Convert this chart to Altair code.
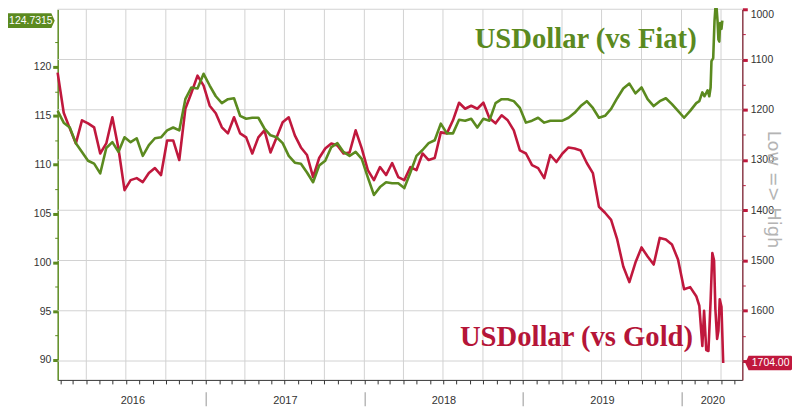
import altair as alt
import pandas as pd

# ---------------- data ----------------
base_dates = pd.date_range("2016-01-26", periods=106, freq="14D").strftime("%Y-%m-%d").tolist()

fiat_base = [
    115.5, 114.3, 113.8, 112.2, 111.3, 110.4, 110.1, 109.1, 111.7, 112.3,
    111.3, 112.8, 112.3, 112.7, 110.9, 112.0, 112.7, 112.8, 113.5, 113.8,
    113.5, 116.7, 117.9, 117.8, 119.3, 118.1, 117.0, 116.3, 116.7, 116.8,
    115.0, 114.7, 114.8, 114.8, 113.7, 113.0, 112.8, 112.2, 110.9, 110.2,
    110.1, 109.2, 108.2, 109.9, 110.4, 111.8, 112.2, 111.3, 110.9, 111.3,
    110.6, 108.7, 106.9, 107.7, 108.2, 108.1, 108.1, 107.6, 109.2, 110.9,
    111.5, 112.2, 112.5, 114.2, 113.2, 113.2, 114.6, 114.5, 114.7, 113.8,
    114.7, 114.5, 116.3, 116.7, 116.7, 116.5, 115.8, 114.3, 114.5, 114.8,
    114.3, 114.5, 114.5, 114.5, 114.8, 115.3, 116.0, 116.5, 115.8, 114.8,
    115.0, 115.7, 116.8, 117.8, 118.3, 117.3, 117.9, 116.7, 116.0, 116.5,
    116.8, 116.2, 115.5, 114.8, 115.5, 116.3,
]
fiat_tail_dates = [
    "2020-02-11", "2020-02-18", "2020-02-23", "2020-03-01", "2020-03-05",
    "2020-03-08", "2020-03-10", "2020-03-14", "2020-03-17", "2020-03-19",
    "2020-03-21", "2020-03-24", "2020-03-26", "2020-03-28", "2020-03-30",
    "2020-04-02", "2020-04-04",
]
fiat_tail = [
    116.5, 117.4, 117.0, 117.6, 117.0, 117.9, 120.6, 120.9, 124.7, 126.0,
    126.5, 124.7, 122.8, 122.6, 124.5, 123.9, 124.7315,
]

gold_base = [
    1126, 1206, 1237, 1267, 1221, 1227, 1235, 1287, 1267, 1215,
    1277, 1360, 1340, 1336, 1344, 1326, 1316, 1330, 1261, 1261,
    1300, 1198, 1166, 1132, 1152, 1192, 1207, 1235, 1247, 1215,
    1247, 1255, 1287, 1255, 1241, 1285, 1255, 1225, 1215, 1251,
    1275, 1290, 1334, 1296, 1277, 1267, 1271, 1287, 1285, 1241,
    1277, 1320, 1340, 1314, 1330, 1306, 1334, 1340, 1314, 1320,
    1287, 1300, 1296, 1245, 1247, 1221, 1186, 1198, 1192, 1198,
    1186, 1217, 1227, 1211, 1221, 1241, 1281, 1287, 1310, 1316,
    1336, 1290, 1304, 1287, 1275, 1277, 1281, 1306, 1326, 1393,
    1405, 1419, 1458, 1512, 1543, 1504, 1474, 1492, 1508, 1455,
    1458, 1468, 1498, 1557, 1553, 1571,
]
gold_tail_dates = [
    "2020-02-11", "2020-02-18", "2020-02-22", "2020-02-27", "2020-03-03",
    "2020-03-08", "2020-03-12", "2020-03-16", "2020-03-19", "2020-03-23",
    "2020-03-26", "2020-03-29", "2020-04-02", "2020-04-06",
]
gold_tail = [1590, 1670, 1600, 1678, 1680, 1580, 1485, 1500, 1597, 1656, 1640, 1577, 1592, 1704]

fiat_df = pd.DataFrame({"date": base_dates + fiat_tail_dates, "v": fiat_base + fiat_tail})
gold_df = pd.DataFrame({"date": base_dates + gold_tail_dates, "v": gold_base + gold_tail})

left_ticks = [90, 95, 100, 105, 110, 115, 120]
left_minor = [92.5, 97.5, 102.5, 107.5, 112.5, 117.5, 122.5]
right_ticks = [1000, 1100, 1200, 1300, 1400, 1500, 1600, 1700]
right_minor = [1050, 1150, 1250, 1350, 1450, 1550, 1650]
quarter_dates = [f"{y}-{m:02d}-01" for y in range(2016, 2021) for m in (1, 4, 7, 10)
                 if "2016-04-01" <= f"{y}-{m:02d}-01" <= "2020-04-01"]
year_label_dates = ["2016-07-16", "2017-07-02", "2018-07-02", "2019-07-02", "2020-03-12"]
year_starts = ["2017-01-01", "2018-01-01", "2019-01-01", "2020-01-01"]

fiat_note = pd.DataFrame({"date": ["2018-09-12"], "v": [121.93], "t": ["USDollar (vs Fiat)"]})
gold_note = pd.DataFrame({"date": ["2018-08-09"], "v": [1670.4], "t": ["USDollar (vs Gold)"]})

# ---------------- styling ----------------
GREEN = "#5b8a1f"
RED = "#c0183d"
GRID = "#d2d2d2"
LABEL_FONT = "Liberation Sans"


def dt(s):
    y, m, d = (int(p) for p in s.split("-"))
    return alt.DateTime(year=y, month=m, date=d, utc=True)


xdom = [alt.DateTime(year=2016, month=1, date=26, hours=3, utc=True),
        alt.DateTime(year=2020, month=5, date=20, utc=True)]
month_ticks = [alt.DateTime(year=y, month=m, date=1, utc=True)
               for y in range(2016, 2021) for m in range(1, 13)
               if (y, m) >= (2016, 2) and (y, m) <= (2020, 5)]


def xenc(field="date", axis=None):
    return alt.X(f"{field}:T", scale=alt.Scale(domain=xdom, nice=False), axis=axis)


green_scale = alt.Scale(domain=[87.964, 125.905], nice=False, zero=False)
red_scale = alt.Scale(domain=[1000, 1737.6], reverse=True, nice=False, zero=False)

# vertical grid (quarterly)
vgrid = alt.Chart(pd.DataFrame({"d": quarter_dates})).mark_rule(
    color=GRID, strokeWidth=1
).encode(
    x=xenc("d"),
    y=alt.Y(datum=1000, scale=red_scale, axis=None),
    y2=alt.Y2(datum=1737.6),
)

# horizontal grid at the right-axis values
hgrid = alt.Chart(pd.DataFrame({"v": right_ticks})).mark_rule(
    color=GRID, strokeWidth=1
).encode(
    y=alt.Y("v:Q", scale=red_scale, axis=None),
    x=alt.X(datum=alt.DateTime(year=2016, month=1, date=26, hours=3, utc=True),
            type="temporal", scale=alt.Scale(domain=xdom, nice=False), axis=None),
    x2=alt.X2(datum=alt.DateTime(year=2020, month=5, date=20, utc=True)),
)

month_axis = alt.Chart(pd.DataFrame({"d": quarter_dates})).mark_point(opacity=0).encode(
    x=xenc("d", axis=alt.Axis(orient="bottom", values=month_ticks, labels=False, ticks=True,
                              tickSize=4, tickColor="#333", tickWidth=1, domain=True,
                              domainColor="#333", domainWidth=1, grid=False, title=None))
)

year_labels = alt.Chart(pd.DataFrame({"d": year_label_dates})).mark_point(opacity=0).encode(
    x=xenc("d", axis=alt.Axis(orient="bottom", values=[dt(s) for s in year_label_dates],
                              format="%Y", ticks=False, tickSize=0, domain=False, grid=False,
                              labelPadding=15, labelFont=LABEL_FONT, labelFontSize=11,
                              labelColor="#333", labelFlush=False, labelOverlap=False,
                              title=None))
)

year_seps = alt.Chart(pd.DataFrame({"d": year_starts})).mark_point(opacity=0).encode(
    x=xenc("d", axis=alt.Axis(orient="bottom", values=[dt(s) for s in year_starts],
                              labels=False, ticks=True, tickSize=14, tickColor="#b8b8b8",
                              tickWidth=1.5, domain=False, grid=False, offset=12, title=None))
)

left_minor_axis = alt.Chart(pd.DataFrame({"v": left_minor})).mark_point(opacity=0).encode(
    y=alt.Y("v:Q", scale=green_scale,
            axis=alt.Axis(orient="left", values=left_minor, labels=False, ticks=True, tickSize=3,
                          tickColor=GREEN, tickWidth=1, domain=False, grid=False, title=None))
)
right_minor_axis = alt.Chart(pd.DataFrame({"v": right_minor})).mark_point(opacity=0).encode(
    y=alt.Y("v:Q", scale=red_scale,
            axis=alt.Axis(orient="right", values=right_minor, labels=False, ticks=True, tickSize=3,
                          tickColor=RED, tickWidth=1, domain=False, grid=False, title=None))
)

gold_line = alt.Chart(gold_df).mark_line(color=RED, strokeWidth=2.6, strokeJoin="round").encode(
    x=xenc("date"),
    y=alt.Y("v:Q", scale=red_scale,
            axis=alt.Axis(orient="right", values=right_ticks, format="d", labelFont=LABEL_FONT,
                          labelFontSize=10.5, labelColor="#333", labelPadding=3,
                          labelFlush=True,
                          tickColor=RED, tickSize=5, tickWidth=3, domainColor="#8b3a48",
                          domainWidth=1.5, grid=False,
                          title="Low => High", titleFont="DejaVu Sans", titleFontSize=18,
                          titleFontWeight="normal", titleColor="#b4b4b4", titleAngle=90,
                          titleX=30, titleY=181, titleAlign="center", titleBaseline="middle")),
)

fiat_line = alt.Chart(fiat_df).mark_line(color=GREEN, strokeWidth=2.6, strokeJoin="round").encode(
    x=xenc("date"),
    y=alt.Y("v:Q", scale=green_scale,
            axis=alt.Axis(orient="left", values=left_ticks, format="d", labelFont=LABEL_FONT,
                          labelFontSize=10.5, labelColor="#333", labelPadding=2,
                          tickColor=GREEN, tickSize=5, tickWidth=3, domainColor=GREEN,
                          domainWidth=1.5, grid=False, title=None)),
)

fiat_text = alt.Chart(fiat_note).mark_text(
    font="Liberation Serif", fontSize=28.8, fontWeight="bold", color=GREEN,
    align="left", baseline="alphabetic"
).encode(x=xenc("date"), y=alt.Y("v:Q", scale=green_scale, axis=None), text="t:N")

gold_text = alt.Chart(gold_note).mark_text(
    font="Liberation Serif", fontSize=28.8, fontWeight="bold", color="#b51538",
    align="left", baseline="alphabetic"
).encode(x=xenc("date"), y=alt.Y("v:Q", scale=red_scale, axis=None), text="t:N")

green_tag_shape = "M-0.95,-0.31 L0.86,-0.31 L1,0 L0.86,0.31 L-0.95,0.31 Q-1,0.31 -1,0.26 L-1,-0.26 Q-1,-0.31 -0.95,-0.31 Z"
red_tag_shape = "M-1,0 L-0.86,-0.31 L0.95,-0.31 Q1,-0.31 1,-0.26 L1,0.26 Q1,0.31 0.95,0.31 L-0.86,0.31 Z"

fiat_last = pd.DataFrame({"v": [fiat_tail[-1]]})
gold_last = pd.DataFrame({"v": [gold_tail[-1]]})

fiat_tag_base = alt.Chart(fiat_last).encode(
    y=alt.Y("v:Q", scale=green_scale, axis=None), x=alt.value(-27))
fiat_tag_box = fiat_tag_base.mark_point(shape=green_tag_shape, size=2304, filled=True,
                                        color=GREEN, opacity=1, strokeWidth=0)
fiat_tag_txt = fiat_tag_base.mark_text(color="white", font=LABEL_FONT, fontSize=10.5).encode(
    text=alt.Text("v:Q", format=".4f"))

gold_tag_base = alt.Chart(gold_last).encode(
    y=alt.Y("v:Q", scale=red_scale, axis=None), x=alt.value(715.5))
gold_tag_box = gold_tag_base.mark_point(shape=red_tag_shape, size=2209, filled=True,
                                        color=RED, opacity=1, strokeWidth=0)
gold_tag_txt = gold_tag_base.mark_text(color="white", font=LABEL_FONT, fontSize=10.5, dx=2).encode(
    text=alt.Text("v:Q", format=".2f"))

chart = alt.layer(
    vgrid, hgrid, month_axis, year_labels, year_seps, left_minor_axis, right_minor_axis,
    gold_line, fiat_line, fiat_text, gold_text,
    fiat_tag_box, fiat_tag_txt, gold_tag_box, gold_tag_txt,
).resolve_scale(
    x="independent", y="independent"
).properties(
    width=689, height=373,
    autosize=alt.AutoSizeParams(type="none"),
    padding={"left": 50, "top": 0, "right": 50, "bottom": 27},
    background="white",
).configure_view(stroke=None)

chart.save("out.html", embed_options={"renderer": "svg", "actions": False})
